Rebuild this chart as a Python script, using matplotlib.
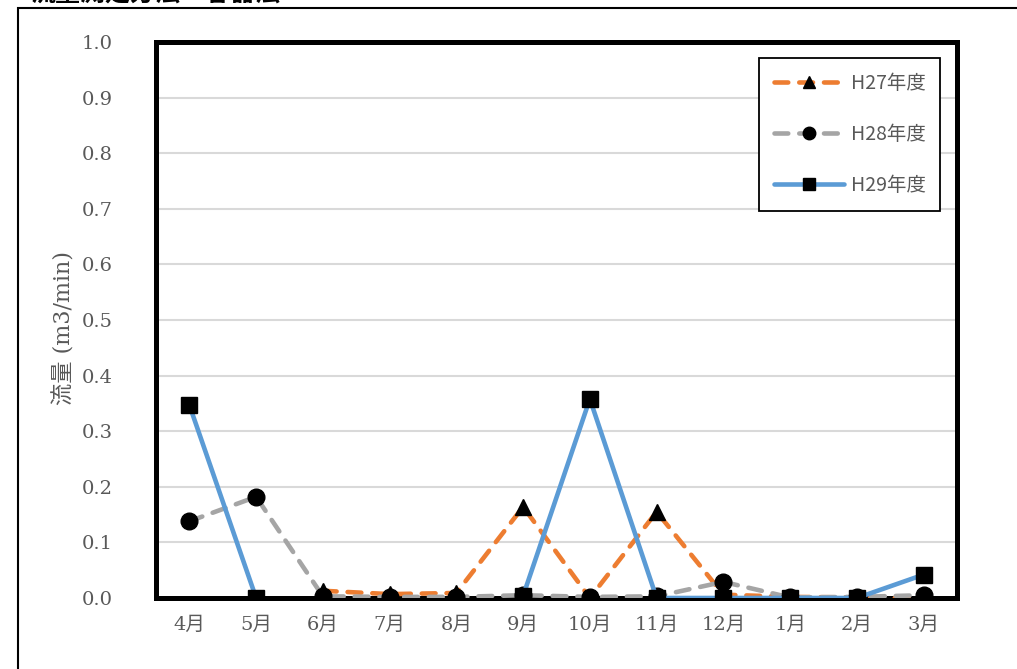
import numpy as np
import matplotlib
matplotlib.use("Agg")
import matplotlib.pyplot as plt
from matplotlib.patches import Rectangle

months = ["4月", "5月", "6月", "7月", "8月", "9月", "10月", "11月", "12月", "1月", "2月", "3月"]
h27 = [np.nan, np.nan, 0.013, 0.007, 0.009, 0.164, 0.0, 0.155, 0.006, 0.002, 0.001, 0.0]
h28 = [0.138, 0.182, 0.003, 0.002, 0.002, 0.005, 0.002, 0.003, 0.029, 0.001, 0.002, 0.005]
h29 = [0.347, 0.0, np.nan, np.nan, np.nan, 0.004, 0.358, 0.0, 0.0, 0.0, 0.0, 0.042]
series_names = ["H27年度", "H28年度", "H29年度"]
yticks = [0.0, 0.1, 0.2, 0.3, 0.4, 0.5, 0.6, 0.7, 0.8, 0.9, 1.0]

W, H = 1017, 669
fig = plt.figure(figsize=(W / 100, H / 100), dpi=100)

# outer frame (partially off-canvas)
fig.patches.append(Rectangle((18 / W, -0.1), 1.2, 1.1 - 8 / H, transform=fig.transFigure,
                             fill=False, edgecolor="black", linewidth=1.5))
# title cut off at the very top edge, as in the reference
fig.text(30 / W, 1 - 0.3 / H, "流量測定方法：容器法", fontsize=18, fontweight="bold",
         family=["Noto Sans CJK JP"], va="baseline", ha="left", color="black")

ax = fig.add_axes([156 / W, (H - 598) / H, 801 / W, 556 / H])
x = np.arange(len(months))

lw = 3.3
ax.plot(x, h27, color="#ED7D31", lw=lw, dashes=(3, 2.4), dash_capstyle="round",
        marker="^", ms=12, mfc="black", mec="black", label=series_names[0], zorder=3)
ax.plot(x, h28, color="#A5A5A5", lw=lw, dashes=(3, 2.4), dash_capstyle="round",
        marker="o", ms=12, mfc="black", mec="black", label=series_names[1], zorder=4)
ax.plot(x, h29, color="#5B9BD5", lw=lw, solid_capstyle="round",
        marker="s", ms=12, mfc="black", mec="black", label=series_names[2], zorder=5)

ax.set_xlim(-0.5, len(months) - 0.5)
ax.set_ylim(0, 1.0)
ax.set_yticks(yticks)
ax.set_yticklabels([f"{v:.1f}" for v in yticks])
ax.set_xticks(x)
ax.set_xticklabels(months)
ax.grid(axis="y", color="#D9D9D9", lw=1.5, zorder=0)
ax.set_axisbelow(True)
for s in ax.spines.values():
    s.set_linewidth(3.6)
    s.set_color("black")
    s.set_zorder(2.5)
ax.tick_params(length=0)
ax.tick_params(axis="y", pad=31)
ax.tick_params(axis="x", pad=13)
for lab in ax.get_yticklabels() + ax.get_xticklabels():
    lab.set_family(["DejaVu Serif", "Noto Sans CJK JP"])
    lab.set_fontsize(14)
    lab.set_color("#595959")

ax.set_ylabel("流量 (m3/min)", family=["DejaVu Serif", "Noto Sans CJK JP"], fontsize=16,
              color="#595959")
ax.yaxis.set_label_coords(-0.1, 0.485)

leg = ax.legend(loc="upper right", bbox_to_anchor=(0.979, 0.971), borderaxespad=0,
                fancybox=False, edgecolor="black", framealpha=1, numpoints=1,
                markerscale=0.75, handlelength=3.6, labelspacing=1.55, borderpad=0.75,
                handletextpad=0.35, prop={"family": ["Noto Sans CJK JP"], "size": 14})
leg.get_frame().set_linewidth(1.3)
for t in leg.get_texts():
    t.set_color("#595959")

fig.savefig("out.png", dpi=100)
